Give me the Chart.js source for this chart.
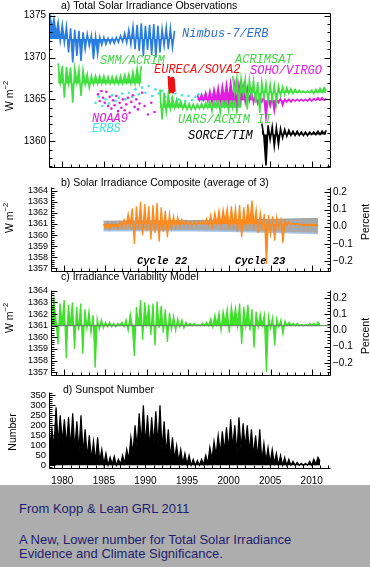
<!DOCTYPE html>
<html>
<head>
<meta charset="utf-8">
<script src="https://cdn.jsdelivr.net/npm/chart.js@4"></script>
<style>
  html, body { margin: 0; padding: 0; background: #fff; }
  body { position: relative; width: 370px; height: 567px; overflow: hidden; font-family: "Liberation Sans", Arial, sans-serif; }
  canvas { position: absolute; left: 0; }
  #footer { position: absolute; left: 0; top: 485px; width: 370px; height: 82px; background: #adadad; color: #1e1e6e; font-size: 13px; line-height: 15px; }
  #footer div { position: absolute; left: 19px; white-space: nowrap; }
</style>
</head>
<body>
<canvas id="tsi" width="370" height="180" style="top:0px"></canvas>
<canvas id="composite" width="370" height="112" style="top:170px"></canvas>
<canvas id="model" width="370" height="124" style="top:262px"></canvas>
<canvas id="sunspot" width="370" height="109" style="top:376px"></canvas>
<div id="footer">
  <div style="top:16px">From Kopp &amp; Lean GRL 2011</div>
  <div style="top:47px">A New, Lower number for Total Solar Irradiance</div>
  <div style="top:61px">Evidence and Climate Significance.</div>
</div>
<script>
Chart.defaults.color = "#000";
Chart.defaults.font.family = "'Liberation Sans', Arial, sans-serif";

const yearMin = 1978.4;
const yearMax = 2012.2;

// a) instrument records, one sample every quarter year (alternating upper / lower edge)
const nimbusStart = 1978.5;
const nimbusFloor = 1372.2;
const nimbusValues = [
  1375.2, 1373.5,
  1374.6, 1372.8, 1374.2, 1372.0,
  1373.9, 1371.8, 1373.7, 1370.6,
  1373.5, 1369.4, 1373.3, 1370.2,
  1373.2, 1369.6, 1373.0, 1371.0,
  1372.8, 1371.4, 1372.6, 1369.8,
  1372.5, 1370.4, 1372.4, 1371.5,
  1372.4, 1371.6, 1372.3, 1371.7,
  1372.3, 1371.7, 1372.4, 1371.8,
  1372.6, 1371.9, 1372.9, 1371.8,
  1373.3, 1371.6, 1373.7, 1371.0,
  1373.9, 1370.8, 1374.1, 1370.2,
  1373.8, 1370.9, 1373.9, 1370.3,
  1374.0, 1370.0, 1373.8, 1370.6,
  1373.4, 1371.4, 1373.6, 1371.0,
  1373.5, 1371.2, 1373.2,
];

const smmStart = 1979.5;
const smmFloor = 1366.9;
const smmValues = [
  1369.3, 1367.0,
  1369.0, 1365.2, 1368.9, 1366.9,
  1368.8, 1364.6, 1368.7, 1367.0,
  1368.6, 1365.4, 1368.5, 1366.8,
  1368.0, 1366.4, 1367.8, 1366.8,
  1367.8, 1366.9, 1367.8, 1366.9,
  1367.8, 1366.9, 1367.7, 1366.9,
  1367.7, 1366.9, 1367.7, 1366.9,
  1367.8, 1366.9, 1367.9, 1367.0,
  1368.0, 1366.9, 1368.3, 1366.9,
  1368.7, 1367.0, 1369.0,
];

const noaa9Points = [
  [1984.3, 1365.6], [1984.5, 1364.8], [1984.7, 1366.0], [1984.9, 1365.2], [1985.1, 1364.6],
  [1985.3, 1365.9], [1985.5, 1364.2], [1985.7, 1365.3], [1985.9, 1363.9], [1986.1, 1364.9],
  [1986.3, 1364.3], [1986.5, 1365.4], [1986.7, 1363.6], [1986.9, 1364.6], [1987.1, 1364.0],
  [1987.3, 1365.0], [1987.5, 1363.7], [1987.7, 1364.4], [1987.9, 1365.2], [1988.1, 1363.4],
  [1988.3, 1364.7], [1988.5, 1365.5], [1988.7, 1364.1], [1988.9, 1365.0], [1989.1, 1363.8],
  [1989.3, 1364.5], [1989.6, 1365.8], [1989.9, 1364.2], [1990.3, 1363.2], [1990.7, 1364.6],
  [1991.1, 1363.5],
];

const erbsPoints = [
  [1984.0, 1364.6], [1984.4, 1365.3], [1984.8, 1364.2], [1985.2, 1365.0], [1985.6, 1364.5],
  [1986.0, 1365.5], [1986.4, 1364.8], [1986.8, 1365.2], [1987.2, 1365.7], [1987.6, 1365.0],
  [1988.0, 1365.8], [1988.4, 1365.3], [1988.8, 1366.2], [1989.2, 1365.6], [1989.6, 1366.4],
  [1990.0, 1365.8], [1990.4, 1366.6], [1990.8, 1365.4], [1991.2, 1366.2], [1991.6, 1365.7],
  [1992.0, 1366.0], [1992.4, 1365.3], [1992.8, 1365.8], [1993.2, 1365.2], [1993.6, 1365.7],
  [1994.0, 1365.0], [1994.4, 1365.5], [1994.8, 1364.8], [1995.2, 1365.4], [1995.6, 1364.9],
  [1996.0, 1365.3], [1996.4, 1365.6], [1996.8, 1364.9], [1997.2, 1365.5], [1997.6, 1365.1],
  [1998.0, 1365.6], [1998.4, 1365.2],
];

const eurecaStart = 1992.8;
const eurecaValues = [1367.8, 1365.7, 1367.6, 1365.8, 1367.7, 1365.7, 1367.5, 1365.9];

const uarsStart = 1991.75;
const uarsFloor = 1364.0;
const uarsValues = [
  1366.2,
  1362.6, 1365.8, 1363.5, 1365.6,
  1363.9, 1365.2, 1364.0, 1365.0,
  1364.1, 1364.8, 1363.9, 1364.6,
  1363.8, 1364.5, 1363.8, 1364.4,
  1363.8, 1364.4, 1363.9, 1364.5,
  1363.9, 1364.6, 1364.0, 1364.8,
  1363.6, 1365.0, 1364.1, 1365.2,
  1363.4, 1365.3, 1364.2, 1365.4,
  1363.7, 1365.6, 1364.0, 1365.5,
  1363.5, 1365.4, 1364.3,
];

const sohoStart = 1996.25;
const sohoFloor = 1364.9;
const sohoValues = [
  1365.5, 1364.9, 1365.6,
  1364.9, 1365.8, 1364.8, 1366.0,
  1364.7, 1366.2, 1365.0, 1366.4,
  1364.8, 1366.6, 1365.1, 1366.8,
  1364.9, 1367.0, 1365.2, 1366.9,
  1364.6, 1366.8, 1365.0, 1366.6,
  1364.7, 1366.4, 1364.9, 1366.0,
  1364.6, 1365.6, 1364.5, 1365.4,
  1364.7, 1365.3, 1362.8, 1365.2,
  1364.2, 1365.2, 1363.6, 1365.1,
  1364.6, 1365.1, 1364.3, 1365.0,
  1364.7, 1365.0, 1364.7, 1365.0,
  1364.8, 1365.0, 1364.8, 1365.0,
  1364.8, 1365.0, 1364.8, 1365.1,
  1364.8, 1365.1, 1364.9, 1365.2,
  1364.9, 1365.2, 1364.9, 1365.1,
];

const acrimsatStart = 2000.5;
const acrimsatFloor = 1365.8;
const acrimsatValues = [
  1367.8, 1365.8,
  1367.6, 1364.2, 1367.5, 1365.6,
  1367.4, 1363.8, 1367.3, 1365.4,
  1367.2, 1364.6, 1367.1, 1363.4,
  1367.0, 1365.2, 1366.9, 1364.8,
  1366.8, 1365.0, 1366.7, 1364.5,
  1366.6, 1365.5, 1366.5, 1365.6,
  1366.4, 1365.7, 1366.3, 1365.7,
  1366.2, 1365.8, 1366.1, 1365.8,
  1366.0, 1365.8, 1366.0, 1365.8,
  1366.1, 1365.7, 1366.2, 1365.8,
  1366.3, 1365.9, 1366.4, 1366.0,
];

const sorceStart = 2004.0;
const sorceFloor = 1360.8;
const sorceValues = [
  1362.1, 1360.6, 1357.1, 1361.9,
  1360.2, 1361.7, 1359.4, 1361.6,
  1359.6, 1361.5, 1360.4, 1361.4,
  1360.6, 1361.3, 1360.7, 1361.2,
  1360.7, 1361.2, 1360.7, 1361.1,
  1360.7, 1361.1, 1360.7, 1361.1,
  1360.8, 1361.1, 1360.8, 1361.2,
  1360.8, 1361.2, 1360.9, 1361.3,
];

// b) composite and its uncertainty band
const compositeStart = 1984.75;
const compositeValues = [
  1361.0,
  1360.6, 1361.1, 1360.5, 1361.0,
  1360.7, 1361.0, 1360.6, 1361.2,
  1360.7, 1361.4, 1360.8, 1361.9,
  1360.9, 1362.4, 1359.2, 1362.6,
  1360.5, 1363.0, 1360.0, 1362.8,
  1360.4, 1362.6, 1359.6, 1362.7,
  1360.2, 1362.9, 1359.4, 1362.5,
  1360.3, 1362.2, 1359.8, 1361.9,
  1360.6, 1361.7, 1360.7, 1361.6,
  1360.8, 1361.4, 1360.9, 1361.3,
  1360.9, 1361.2, 1360.9, 1361.2,
  1360.9, 1361.2, 1361.0, 1361.3,
  1361.0, 1361.5, 1360.9, 1361.8,
  1360.8, 1362.0, 1361.0, 1362.2,
  1360.9, 1362.3, 1361.2, 1362.4,
  1360.5, 1362.6, 1360.8, 1362.4,
  1360.3, 1362.7, 1359.8, 1362.5,
  1360.6, 1362.8, 1361.2, 1363.1,
  1360.9, 1362.3, 1360.2, 1362.0,
  1360.7, 1361.9, 1357.4, 1361.8,
  1360.1, 1361.7, 1359.5, 1361.6,
  1360.7, 1361.4, 1359.3, 1361.3,
  1360.9, 1361.2, 1360.9, 1361.1,
  1360.9, 1361.1, 1360.9, 1361.0,
  1360.8, 1361.0, 1360.8, 1361.0,
  1360.8, 1361.0, 1360.8, 1360.9,
];
const compositeLevel = 1361;
const bandYears = [1984.75, 1990, 1995, 2000, 2005, 2010.75];
const bandUpper = [1361.25, 1361.28, 1361.3, 1361.35, 1361.42, 1361.5];
const bandLower = [1360.4, 1360.4, 1360.4, 1360.35, 1360.25, 1360.15];

// c) variability model
const modelStart = 1978.5;
const modelValues = [
  1361.8, 1363.3,
  1361.5, 1359.4, 1362.9, 1361.2,
  1363.2, 1358.2, 1362.8, 1361.0,
  1363.0, 1359.0, 1362.6, 1360.6,
  1362.9, 1358.6, 1362.4, 1360.8,
  1362.2, 1360.4, 1361.9, 1357.4,
  1361.6, 1360.7, 1361.5, 1360.8,
  1361.3, 1360.9, 1361.3, 1360.9,
  1361.2, 1360.9, 1361.2, 1361.0,
  1361.3, 1360.9, 1361.5, 1360.6,
  1362.0, 1361.0, 1358.4, 1362.6,
  1361.0, 1363.2, 1359.8, 1363.0,
  1361.2, 1362.8, 1360.2, 1362.9,
  1359.3, 1363.1, 1360.8, 1362.7,
  1360.4, 1362.4, 1359.6, 1362.1,
  1360.7, 1361.8, 1360.6, 1361.6,
  1360.9, 1361.5, 1360.8, 1361.3,
  1361.0, 1361.2, 1361.0, 1361.2,
  1361.0, 1361.1, 1361.0, 1361.2,
  1361.0, 1361.3, 1361.0, 1361.6,
  1360.9, 1361.9, 1361.1, 1362.1,
  1360.6, 1362.2, 1361.2, 1362.4,
  1360.4, 1362.6, 1361.3, 1362.5,
  1361.0, 1362.9, 1359.4, 1362.6,
  1361.0, 1362.8, 1360.6, 1362.4,
  1359.1, 1362.2, 1360.9, 1362.0,
  1361.0, 1361.9, 1357.0, 1361.8,
  1360.8, 1361.7, 1359.3, 1361.6,
  1360.9, 1361.5, 1360.3, 1361.4,
  1361.0, 1361.3, 1361.0, 1361.2,
  1361.0, 1361.2, 1361.0, 1361.1,
  1361.0, 1361.1, 1361.0, 1361.2,
  1361.0, 1361.2, 1361.0, 1361.3,
  1361.1,
];
const modelBaseline = 1361;

// d) sunspot number
const sunspotStart = 1978.5;
const sunspotValues = [
  100, 180,
  90, 290, 110, 250,
  120, 230, 100, 240,
  90, 260, 80, 220,
  70, 250, 60, 180,
  40, 150, 30, 120,
  20, 140, 20, 80,
  5, 60, 0, 40,
  5, 45, 0, 30,
  5, 50, 10, 80,
  30, 140, 60, 200,
  90, 260, 110, 300,
  100, 250, 90, 240,
  110, 270, 100, 300,
  80, 220, 60, 180,
  40, 140, 30, 100,
  20, 80, 10, 60,
  5, 50, 0, 30,
  0, 25, 0, 30,
  5, 50, 10, 90,
  30, 120, 50, 150,
  60, 170, 70, 190,
  80, 230, 90, 200,
  60, 240, 80, 210,
  90, 200, 70, 180,
  50, 150, 40, 180,
  20, 110, 20, 90,
  10, 80, 10, 60,
  0, 50, 0, 40,
  0, 30, 0, 20,
  0, 15, 0, 10,
  0, 10, 0, 20,
  0, 30, 5, 40,
  20,
];

const quarter = 0.25;

function series(start, step, values) {
  return values.map((v, i) => ({ x: start + i * step, y: v }));
}

function pairs(list) {
  return list.map(([x, y]) => ({ x, y }));
}

function trace(points, color, order, width = 1.8, fill = false) {
  return { data: points, borderColor: color, backgroundColor: color, borderWidth: width, pointRadius: 0, fill, tension: 0, order };
}

function dots(points, color, order) {
  return { data: points, showLine: false, pointRadius: 1.3, pointBorderWidth: 0, pointBackgroundColor: color, borderColor: color, backgroundColor: color, order };
}

// box sides plus inward tick marks, placed with the chart's own scales
const framePlugin = {
  id: "frame",
  afterDatasetsDraw(chart, args, opts) {
    const { ctx, chartArea: area } = chart;
    const px = (v) => Math.round(v) + 0.5;
    const l = px(area.left), r = px(area.right), t = px(area.top), b = px(area.bottom);
    ctx.save();
    ctx.strokeStyle = "#000";
    ctx.lineWidth = 1;
    ctx.beginPath();
    const sides = opts.sides || [];
    if (sides.includes("left")) { ctx.moveTo(l, t); ctx.lineTo(l, b); }
    if (sides.includes("right")) { ctx.moveTo(r, t); ctx.lineTo(r, b); }
    if (sides.includes("top")) { ctx.moveTo(l, t); ctx.lineTo(r, t); }
    if (sides.includes("bottom")) { ctx.moveTo(l, b); ctx.lineTo(r, b); }
    (opts.ticks || []).forEach((tk) => {
      const scale = chart.scales[tk.scale];
      const first = Math.ceil(scale.min / tk.step - 1e-6);
      const last = Math.floor(scale.max / tk.step + 1e-6);
      for (let k = first; k <= last; k++) {
        const v = k * tk.step;
        const ratio = v / tk.major;
        const len = Math.abs(ratio - Math.round(ratio)) < 1e-6 ? 6 : 3;
        const p = px(scale.getPixelForValue(v));
        if (tk.side === "bottom") { ctx.moveTo(p, b); ctx.lineTo(p, b - len); }
        if (tk.side === "left") { ctx.moveTo(l, p); ctx.lineTo(l + len, p); }
        if (tk.side === "right") { ctx.moveTo(r, p); ctx.lineTo(r - len, p); }
      }
    });
    ctx.stroke();
    ctx.restore();
  },
};

// panel titles, axis titles and instrument names
const textPlugin = {
  id: "panelText",
  afterDraw(chart, args, opts) {
    const { ctx } = chart;
    (opts.items || []).forEach((it) => {
      ctx.save();
      ctx.translate(it.x, it.y - opts.top);
      if (it.rotate) ctx.rotate(it.rotate);
      ctx.fillStyle = it.color || "#000";
      ctx.textBaseline = "middle";
      ctx.textAlign = "left";
      ctx.font = it.font;
      const w = ctx.measureText(it.text).width;
      let supW = 0;
      if (it.sup) {
        ctx.font = it.supFont;
        supW = ctx.measureText(it.sup).width;
        ctx.font = it.font;
      }
      const x0 = it.align === "center" ? -(w + supW) / 2 : 0;
      ctx.fillText(it.text, x0, 0);
      if (it.sup) {
        ctx.font = it.supFont;
        ctx.fillText(it.sup, x0 + w, -4);
      }
      ctx.restore();
    });
  },
};

const narrow = "'Liberation Sans Narrow', 'Liberation Sans', sans-serif";
const titleFont = "10.5px 'Liberation Sans', Arial, sans-serif";
const tagFont = "italic 12px 'Liberation Mono', monospace";
const unitText = { text: "W m", sup: "−2", font: titleFont, supFont: "7.5px 'Liberation Sans', sans-serif", rotate: -Math.PI / 2, align: "center" };

function yearAxis(showLabels, height) {
  return {
    type: "linear",
    min: yearMin,
    max: yearMax,
    grid: { display: false, drawTicks: false },
    border: { display: false },
    ticks: {
      display: showLabels,
      stepSize: 5,
      includeBounds: false,
      autoSkip: false,
      maxRotation: 0,
      padding: 7,
      font: { family: narrow, size: 10 },
      callback: (v) => String(v),
    },
    afterFit: (s) => { s.height = height; s.paddingLeft = 0; s.paddingRight = 0; },
  };
}

function valueAxis(o) {
  return {
    type: "linear",
    position: o.position || "left",
    min: o.min,
    max: o.max,
    grid: { display: false, drawTicks: false },
    border: { display: false },
    ticks: {
      stepSize: o.step,
      includeBounds: false,
      autoSkip: false,
      padding: 3,
      font: o.font,
      callback: o.format || ((v) => String(v)),
    },
    afterFit: (s) => { s.width = o.width; s.paddingTop = 0; s.paddingBottom = 0; },
  };
}

function percentLabel(v) {
  if (Math.abs(v) < 1e-9) return "0.0";
  return v < 0 ? "−" + Math.abs(v).toFixed(1) : v.toFixed(1);
}

function baseOptions(padding, scales, frame, text) {
  return {
    responsive: false,
    animation: false,
    devicePixelRatio: 1,
    layout: { padding },
    scales,
    plugins: { legend: { display: false }, tooltip: { enabled: false }, frame, panelText: text },
  };
}

new Chart(document.getElementById("tsi"), {
  type: "line",
  data: {
    datasets: [
      trace(series(nimbusStart, quarter, nimbusValues), "#2a7de1", 9, 1.6, { value: nimbusFloor }),
      trace(series(smmStart, quarter, smmValues), "#3fe03f", 8, 1.6, { value: smmFloor }),
      dots(pairs(erbsPoints), "#3ee4e8", 7),
      dots(pairs(noaa9Points), "#e01ee0", 6),
      trace(series(eurecaStart, 0.1, eurecaValues), "#ee1111", 5, 2.2),
      trace(series(uarsStart, quarter, uarsValues), "#3fe03f", 4, 1.6, { value: uarsFloor }),
      trace(series(sohoStart, quarter, sohoValues), "#e01ee0", 3, 1.6, { value: sohoFloor }),
      trace(series(acrimsatStart, quarter, acrimsatValues), "#3fe03f", 2, 1.6, { value: acrimsatFloor }),
      trace(series(sorceStart, quarter, sorceValues), "#000000", 1, 1.6, { value: sorceFloor }),
    ],
  },
  options: baseOptions(
    { top: 13, bottom: 13, left: 0, right: 40 },
    {
      x: yearAxis(false, 0),
      y: valueAxis({ min: 1356.92, max: 1375.32, step: 5, width: 49, font: { size: 10 } }),
    },
    {
      sides: ["left", "right", "top", "bottom"],
      ticks: [
        { scale: "x", side: "bottom", step: 1, major: 5 },
        { scale: "y", side: "left", step: 1, major: 5 },
        { scale: "y", side: "right", step: 1, major: 5 },
      ],
    },
    {
      top: 0,
      items: [
        { text: "a) Total Solar Irradiance Observations", x: 61, y: 6, font: titleFont },
        Object.assign({ x: 10, y: 96 }, unitText),
        { text: "Nimbus-7/ERB", x: 182, y: 33.5, font: tagFont, color: "#2a6fd0" },
        { text: "SMM/ACRIM", x: 100, y: 61, font: tagFont, color: "#3fd83f" },
        { text: "EURECA/SOVA2", x: 154, y: 69.5, font: tagFont, color: "#ee1111" },
        { text: "ACRIMSAT", x: 235, y: 59.5, font: tagFont, color: "#3fd83f" },
        { text: "SOHO/VIRGO", x: 250, y: 71, font: tagFont, color: "#e01ee0" },
        { text: "NOAA9", x: 92, y: 118.5, font: tagFont, color: "#e01ee0" },
        { text: "ERBS", x: 92, y: 128.5, font: tagFont, color: "#3ee4e8" },
        { text: "UARS/ACRIM II", x: 178, y: 119.5, font: tagFont, color: "#3fd83f" },
        { text: "SORCE/TIM", x: 188, y: 136, font: tagFont, color: "#000" },
      ],
    }
  ),
  plugins: [framePlugin, textPlugin],
});

new Chart(document.getElementById("composite"), {
  type: "line",
  data: {
    datasets: [
      trace(series(compositeStart, quarter, compositeValues), "#ff8a1c", 1, 1.3, { value: compositeLevel }),
      trace(bandYears.map((x, i) => ({ x, y: bandLower[i] })), "#a6c6ea", 2, 1.5),
      Object.assign(trace(bandYears.map((x, i) => ({ x, y: bandUpper[i] })), "#9c9c9c", 3, 1), { fill: "-1", backgroundColor: "#a9a9a9" }),
    ],
  },
  options: baseOptions(
    { top: 17, bottom: 11, left: 0, right: 0 },
    {
      x: yearAxis(false, 0),
      y: valueAxis({ min: 1356.77, max: 1364.33, step: 1, width: 51, font: { family: narrow, size: 9 } }),
      p: valueAxis({ position: "right", min: -0.258, max: 0.231, step: 0.1, width: 40, font: { size: 10 }, format: percentLabel }),
    },
    {
      sides: ["left", "right", "bottom"],
      ticks: [
        { scale: "x", side: "bottom", step: 1, major: 5 },
        { scale: "y", side: "left", step: 0.2, major: 1 },
        { scale: "p", side: "right", step: 0.02, major: 0.1 },
      ],
    },
    {
      top: 170,
      items: [
        { text: "b) Solar Irradiance Composite (average of 3)", x: 61, y: 183, font: titleFont },
        { text: "c) Irradiance Variability Model", x: 61, y: 277, font: titleFont },
        Object.assign({ x: 10, y: 218 }, unitText),
        { text: "Percent", x: 366, y: 222, font: titleFont, rotate: -Math.PI / 2, align: "center" },
        { text: "Cycle 22", x: 137, y: 261, font: "italic bold 10.5px 'Liberation Mono', monospace" },
        { text: "Cycle 23", x: 235, y: 261, font: "italic bold 10.5px 'Liberation Mono', monospace" },
      ],
    }
  ),
  plugins: [framePlugin, textPlugin],
});

new Chart(document.getElementById("model"), {
  type: "line",
  data: {
    datasets: [
      trace([{ x: yearMin, y: modelBaseline }, { x: yearMax, y: modelBaseline }], "#5f7f5f", 1, 1),
      trace(series(modelStart, quarter, modelValues), "#3fe02a", 2, 1.3, { value: modelBaseline }),
    ],
  },
  options: baseOptions(
    { top: 28, bottom: 11, left: 0, right: 0 },
    {
      x: yearAxis(false, 0),
      y: valueAxis({ min: 1356.77, max: 1364.06, step: 1, width: 51, font: { family: narrow, size: 9 } }),
      p: valueAxis({ position: "right", min: -0.276, max: 0.252, step: 0.1, width: 40, font: { size: 10 }, format: percentLabel }),
    },
    {
      sides: ["left", "right", "bottom"],
      ticks: [
        { scale: "x", side: "bottom", step: 1, major: 5 },
        { scale: "y", side: "left", step: 0.2, major: 1 },
        { scale: "p", side: "right", step: 0.02, major: 0.1 },
      ],
    },
    {
      top: 262,
      items: [
        Object.assign({ x: 10, y: 318 }, unitText),
        { text: "Percent", x: 366, y: 336, font: titleFont, rotate: -Math.PI / 2, align: "center" },
      ],
    }
  ),
  plugins: [framePlugin, textPlugin],
});

new Chart(document.getElementById("sunspot"), {
  type: "line",
  data: {
    datasets: [trace(series(sunspotStart, quarter, sunspotValues), "#000000", 1, 1.2, "origin")],
  },
  options: baseOptions(
    { top: 16, bottom: 0, left: 0, right: 40 },
    {
      x: yearAxis(true, 17),
      y: valueAxis({ min: -13.5, max: 366, step: 50, width: 49, font: { family: narrow, size: 9.5 } }),
    },
    {
      sides: ["left", "bottom"],
      ticks: [
        { scale: "x", side: "bottom", step: 1, major: 5 },
        { scale: "y", side: "left", step: 10, major: 50 },
      ],
    },
    {
      top: 376,
      items: [
        { text: "d) Sunspot Number", x: 63, y: 390, font: titleFont },
        { text: "Number", x: 13, y: 432, font: titleFont, rotate: -Math.PI / 2, align: "center" },
      ],
    }
  ),
  plugins: [framePlugin, textPlugin],
});
</script>
</body>
</html>
